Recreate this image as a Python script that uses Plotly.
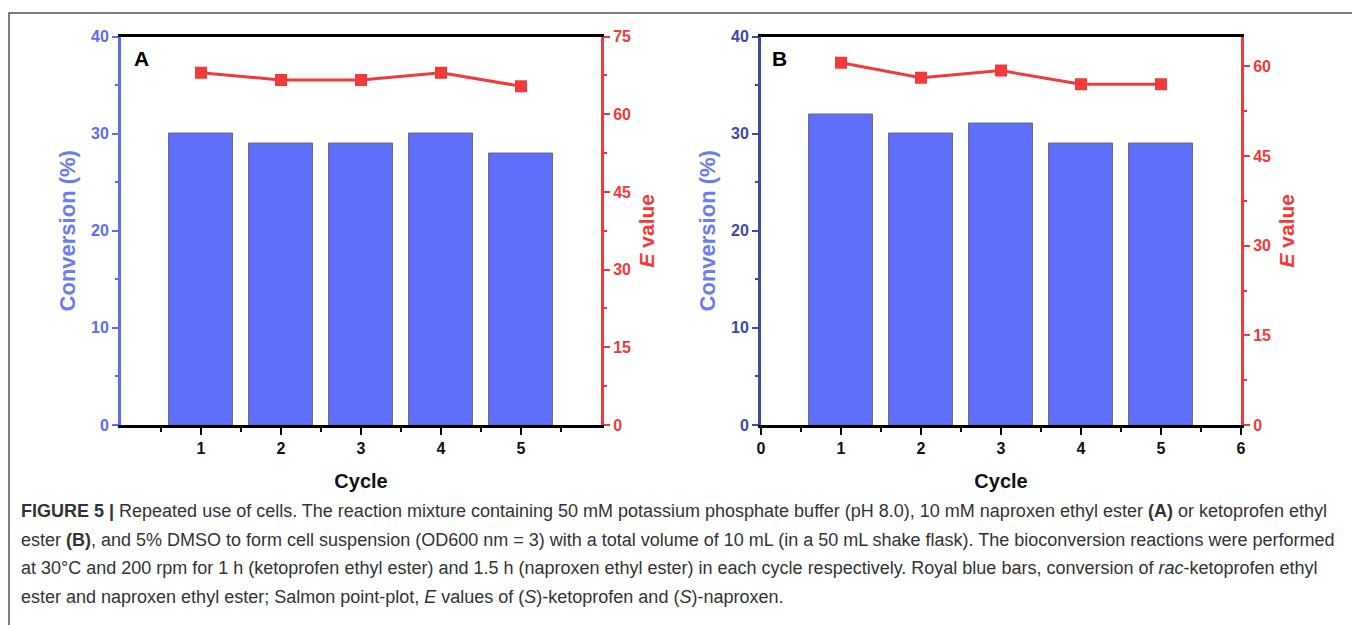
import plotly.graph_objects as go

cycles = [1, 2, 3, 4, 5]
conv_A = [30, 29, 29, 30, 28]
e_A = [68.0, 66.6, 66.6, 68.0, 65.4]
conv_B = [32, 30, 31, 29, 29]
e_B = [60.6, 58.1, 59.3, 57.0, 57.0]

caption_lines = [
    "<b>FIGURE 5 |</b> Repeated use of cells. The reaction mixture containing 50 mM potassium phosphate buffer (pH 8.0), 10 mM naproxen ethyl ester <b>(A)</b> or ketoprofen ethyl",
    "ester <b>(B)</b>, and 5% DMSO to form cell suspension (OD600 nm = 3) with a total volume of 10 mL (in a 50 mL shake flask). The bioconversion reactions were performed",
    "at 30°C and 200 rpm for 1 h (ketoprofen ethyl ester) and 1.5 h (naproxen ethyl ester) in each cycle respectively. Royal blue bars, conversion of <i>rac</i>-ketoprofen ethyl",
    "ester and naproxen ethyl ester; Salmon point-plot, <i>E</i> values of (<i>S</i>)-ketoprofen and (<i>S</i>)-naproxen.",
]

# page body has an 8px margin; the figure is placed at (8, 8)
OFF = 8
W, H = 1360 - OFF, 625 - OFF
FONT = "Liberation Sans, Arial, sans-serif"
BAR = "#5f6ffc"
RED = "#f23a3a"
BLUE_A = "#5b6ef5"
BLUE_B = "#3e49a8"
TITLE_BLUE = "#6a7cf2"


def px(x):
    return (x - OFF) / W


def py(y):
    return 1 - (y - OFF) / H


fig = go.Figure()

# Panel A
fig.add_trace(go.Bar(x=cycles, y=conv_A, width=0.8, marker=dict(color=BAR, line=dict(color="#6d6d7a", width=1)),
                     xaxis="x", yaxis="y", showlegend=False))
fig.add_trace(go.Scatter(x=cycles, y=e_A, mode="lines+markers", line=dict(color=RED, width=3),
                         marker=dict(symbol="square", size=12, color=RED),
                         xaxis="x", yaxis="y2", showlegend=False))
# Panel B
fig.add_trace(go.Bar(x=cycles, y=conv_B, width=0.8, marker=dict(color=BAR, line=dict(color="#6d6d7a", width=1)),
                     xaxis="x2", yaxis="y3", showlegend=False))
fig.add_trace(go.Scatter(x=cycles, y=e_B, mode="lines+markers", line=dict(color=RED, width=3),
                         marker=dict(symbol="square", size=12, color=RED),
                         xaxis="x2", yaxis="y4", showlegend=False))

tickfont_black = dict(family=FONT, size=16, color="#111111")


def xaxis(domain, anchor, tickvals):
    return dict(domain=domain, anchor=anchor, range=[0, 6], tickmode="array", tickvals=tickvals,
                ticktext=[f"<b>{v}</b>" for v in tickvals], automargin=False,
                showline=True, linecolor="black", linewidth=3, mirror=True,
                ticks="outside", ticklen=7, tickwidth=2, tickcolor="black",
                minor=dict(tickvals=[0.5, 1.5, 2.5, 3.5, 4.5, 5.5], ticks="outside", ticklen=4, tickwidth=2, tickcolor="black"),
                showgrid=False, zeroline=False, tickfont=tickfont_black,
                title=dict(text="<b>Cycle</b>", font=dict(family=FONT, size=20, color="#111111"), standoff=18))


def yleft(domain, anchor, color):
    return dict(domain=domain, anchor=anchor, range=[0, 40], tickvals=[0, 10, 20, 30, 40],
                ticktext=[f"<b>{v}</b>" for v in [0, 10, 20, 30, 40]], automargin=False,
                showline=True, linecolor=color, linewidth=3, ticks="outside", ticklen=6, tickwidth=2, tickcolor=color,
                minor=dict(tickvals=[5, 15, 25, 35], ticks="outside", ticklen=3, tickwidth=2, tickcolor=color),
                showgrid=False, zeroline=False, tickfont=dict(family=FONT, size=16, color=color),
                title=dict(text="<b>Conversion (%)</b>", font=dict(family=FONT, size=22, color=TITLE_BLUE), standoff=10))


def yright(overlay, anchor, rng, tv, minor_vals):
    return dict(overlaying=overlay, anchor=anchor, side="right", range=rng, tickvals=tv,
                ticktext=[f"<b>{v}</b>" for v in tv], automargin=False,
                showline=True, linecolor=RED, linewidth=3, ticks="outside", ticklen=6, tickwidth=2, tickcolor=RED,
                minor=dict(tickvals=minor_vals, ticks="outside", ticklen=3, tickwidth=2, tickcolor=RED),
                showgrid=False, zeroline=False, tickfont=dict(family=FONT, size=16, color=RED),
                title=dict(text="<b><i>E</i> value</b>", font=dict(family=FONT, size=21, color=RED), standoff=10))


ydom = [py(425), py(36.5)]
fig.update_layout(
    width=W, height=H, margin=dict(l=0, r=0, t=0, b=0, autoexpand=False),
    paper_bgcolor="white", plot_bgcolor="white",
    bargap=0,
    xaxis=xaxis([px(121), px(601)], "y", [1, 2, 3, 4, 5]),
    yaxis=yleft(ydom, "x", BLUE_A),
    yaxis2=yright("y", "x", [0, 75], [0, 15, 30, 45, 60, 75], [7.5, 22.5, 37.5, 52.5, 67.5]),
    xaxis2=xaxis([px(761), px(1241)], "y3", [0, 1, 2, 3, 4, 5, 6]),
    yaxis3=yleft(ydom, "x2", BLUE_B),
    yaxis4=yright("y3", "x2", [0, 65], [0, 15, 30, 45, 60], [7.5, 22.5, 37.5, 52.5]),
)

# Outer frame
fig.add_shape(type="rect", xref="paper", yref="paper", x0=px(9), x1=px(1355), y0=-0.2, y1=py(13),
              line=dict(color="#555555", width=1.5), fillcolor="rgba(0,0,0,0)", layer="below")

# Panel letters
fig.add_annotation(xref="paper", yref="paper", x=px(132), y=py(58), text="<b>A</b>", showarrow=False,
                   xanchor="left", yanchor="middle", font=dict(family=FONT, size=21, color="black"))
fig.add_annotation(xref="paper", yref="paper", x=px(770), y=py(58), text="<b>B</b>", showarrow=False,
                   xanchor="left", yanchor="middle", font=dict(family=FONT, size=21, color="black"))

# Caption
for i, line in enumerate(caption_lines):
    fig.add_annotation(xref="paper", yref="paper", x=px(19), y=py(511 + i * 28.5), text=line, showarrow=False,
                       xanchor="left", yanchor="middle", align="left",
                       font=dict(family=FONT, size=18, color="#333333"))

fig.write_html("out.html")
